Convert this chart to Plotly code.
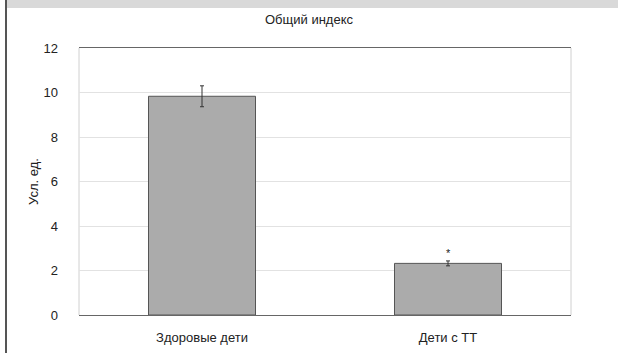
import plotly.graph_objects as go

# Values
categories = ["Здоровые дети", "Дети с ТТ"]
values = [9.83, 2.32]
errors = [0.47, 0.11]
marks = ["", "*"]
y_ticks = [0, 2, 4, 6, 8, 10, 12]

W, H = 618, 353
L, R, T, B = 79, 47, 48, 38
pw, ph = W - L - R, H - T - B

def px_x(x):
    return (x - L) / pw

def px_y(y):
    return (H - B - y) / ph

font = "Liberation Sans, Arial, Helvetica, sans-serif"
fs = 13

fig = go.Figure()
fig.add_trace(go.Bar(
    x=categories,
    y=values,
    width=0.435,
    marker=dict(color="#ababab", line=dict(color="#555555", width=1)),
    error_y=dict(type="data", array=errors, visible=True,
                 color="#333333", thickness=1, width=2),
    showlegend=False,
))

# significance marker above the second bar
for c, v, e, m in zip(categories, values, errors, marks):
    if m:
        fig.add_annotation(x=c, y=v + e, text=m, showarrow=False,
                           yshift=8, font=dict(size=11, color="#222", family=font))

# y-axis title
fig.add_annotation(xref="paper", yref="paper", x=px_x(33), y=px_y(182),
                   text="Усл. ед.", textangle=-90, showarrow=False,
                   xanchor="center", yanchor="middle",
                   font=dict(size=fs, color="#222", family=font))

fig.update_layout(
    width=W, height=H,
    margin=dict(l=L, r=R, t=T, b=B),
    paper_bgcolor="white",
    plot_bgcolor="white",
    title=dict(text="Общий индекс", x=px_x(325), xanchor="center",
               y=1 - 19 / H, yanchor="middle",
               font=dict(size=fs, color="#222", family=font)),
    font=dict(family=font, size=fs, color="#222"),
    shapes=[
        dict(type="rect", xref="paper", yref="paper",
             x0=px_x(7), x1=px_x(W + 5), y0=px_y(8), y1=px_y(-5),
             fillcolor="#d9d9d9", line=dict(width=0), layer="above"),
        dict(type="line", xref="paper", yref="paper",
             x0=px_x(6), x1=px_x(6), y0=px_y(H + 5), y1=px_y(-5),
             line=dict(color="#555555", width=2), layer="above"),
        # light side borders of the plot area
        dict(type="line", xref="paper", yref="paper", x0=0, x1=0, y0=0, y1=1,
             line=dict(color="#d0d0d0", width=1), layer="below"),
        dict(type="line", xref="paper", yref="paper", x0=1, x1=1, y0=0, y1=1,
             line=dict(color="#d0d0d0", width=1), layer="below"),
    ],
)

fig.update_xaxes(
    automargin=False,
    showline=True, mirror=True, linecolor="#666666", linewidth=1,
    ticks="", tickfont=dict(size=fs, color="#222"),
    ticklabelstandoff=10,
)
fig.update_yaxes(
    automargin=False,
    range=[0, 12], tickvals=y_ticks,
    showgrid=True, gridcolor="#e2e2e2", gridwidth=1,
    zeroline=False, showline=False,
    ticks="", tickfont=dict(size=fs, color="#222"),
    ticklabelstandoff=20,
)

fig.write_html("out.html")
